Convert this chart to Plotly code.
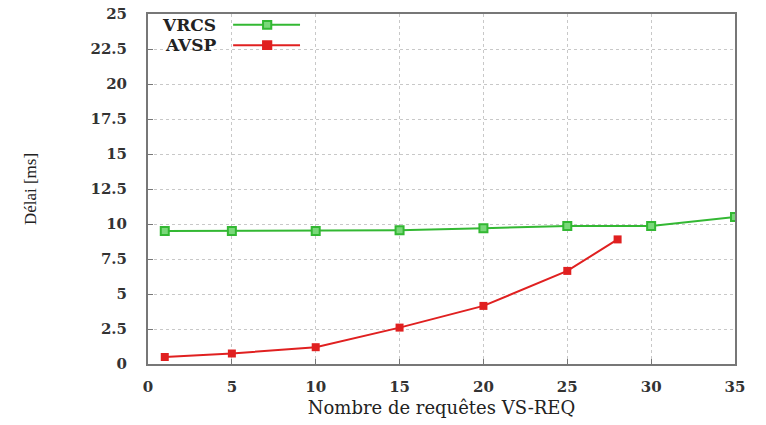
import plotly.graph_objects as go

x_vrcs = [1, 5, 10, 15, 20, 25, 30, 35]
y_vrcs = [9.5, 9.5, 9.5, 9.55, 9.7, 9.85, 9.85, 10.5]
x_avsp = [1, 5, 10, 15, 20, 25, 28]
y_avsp = [0.5, 0.75, 1.2, 2.6, 4.15, 6.65, 8.9]
x_ticks = [0, 5, 10, 15, 20, 25, 30, 35]
y_ticks = [0, 2.5, 5, 7.5, 10, 12.5, 15, 17.5, 20, 22.5, 25]
names = ["VRCS", "AVSP"]
green = "#33b833"
red = "#e02020"

font = "DejaVu Serif"
fig = go.Figure()
fig.add_trace(go.Scatter(x=x_vrcs, y=y_vrcs, mode="lines+markers", name=names[0],
                         line=dict(color=green, width=2),
                         marker=dict(symbol="square", size=8, color="#7ad87a",
                                     line=dict(color=green, width=2)),
                         showlegend=False))
fig.add_trace(go.Scatter(x=x_avsp, y=y_avsp, mode="lines+markers", name=names[1],
                         line=dict(color=red, width=2),
                         marker=dict(symbol="square", size=8, color=red),
                         showlegend=False))

axis_common = dict(showline=True, linecolor="#777", linewidth=2, mirror=True,
                   ticks="inside", ticklen=5, tickcolor="#777",
                   showgrid=True, gridcolor="#c8c8c8", griddash="dot", gridwidth=1,
                   zeroline=False, automargin=False,
                   tickfont=dict(family=font, size=15, color="#333", weight="bold"))
fig.update_xaxes(range=[0, 35], tickvals=x_ticks, ticktext=[str(v) for v in x_ticks],
                 ticklabelstandoff=8,
                 title=dict(text="Nombre de requêtes VS-REQ",
                            font=dict(family=font, size=18, color="#222"),
                            standoff=6),
                 **axis_common)
fig.update_yaxes(range=[0, 25], tickvals=y_ticks, ticktext=[f"{v:g}" for v in y_ticks],
                 ticklabelstandoff=16,
                 title=dict(text="Délai [ms]",
                            font=dict(family="Liberation Serif", size=17, color="#222"),
                            standoff=50),
                 **axis_common)

# legend (gnuplot style: text right-aligned, then sample line)
legend_rows = [(names[0], green, "#7ad87a", 0.969), (names[1], red, red, 0.911)]
for name, col, fill, yp in legend_rows:
    fig.add_annotation(xref="paper", yref="paper", x=0.119, y=yp, text=f"<b>{name}</b>",
                       showarrow=False, xanchor="right", yanchor="middle",
                       font=dict(family=font, size=17, color="#222"))
    fig.add_shape(type="line", xref="paper", yref="paper", x0=0.145, x1=0.259, y0=yp, y1=yp,
                  line=dict(color=col, width=2))
    fig.add_shape(type="rect", xref="paper", yref="paper", x0=0.196, x1=0.210,
                  y0=yp - 0.011, y1=yp + 0.011, line=dict(color=col, width=2), fillcolor=fill)

fig.update_layout(width=766, height=425, margin=dict(l=148, r=31, t=14, b=61),
                  plot_bgcolor="white", paper_bgcolor="white", showlegend=False)
fig.write_html("out.html")
